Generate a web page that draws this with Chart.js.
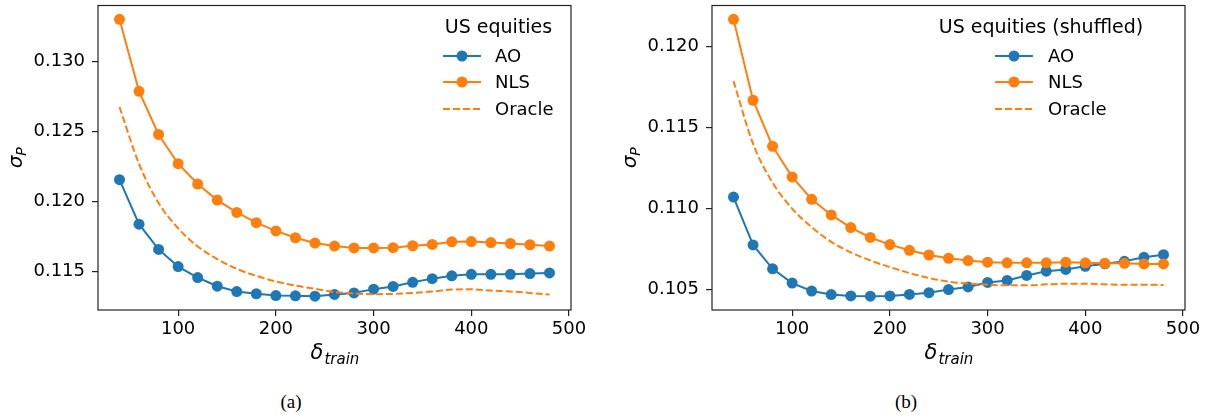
<!DOCTYPE html>
<html>
<head>
<meta charset="utf-8">
<script src="https://cdn.jsdelivr.net/npm/chart.js@4/dist/chart.umd.min.js"></script>
<style>
  html, body { margin: 0; padding: 0; background: #fff; }
  #wrap { position: relative; width: 1210px; height: 416px; overflow: hidden; }
  canvas { position: absolute; top: 0; }
  .cap { position: absolute; top: 391px; font-family: "Liberation Serif", "DejaVu Serif", serif; font-size: 19px; color: #000; transform: translateX(-50%); }
</style>
</head>
<body>
<div id="wrap">
  <canvas id="cA" width="605" height="372" style="left:0px"></canvas>
  <canvas id="cB" width="605" height="372" style="left:605px"></canvas>
  <div class="cap" style="left:291px">(a)</div>
  <div class="cap" style="left:906px">(b)</div>
</div>
<script>
// ---- data ----
const deltaTrain = [40,60,80,100,120,140,160,180,200,220,240,260,280,300,320,340,360,380,400,420,440,460,480];

const aoEquities = [0.12157,0.11839,0.11659,0.11536,0.11458,0.11396,0.11358,0.11342,0.11329,0.11327,0.11325,0.11337,0.11348,0.11375,0.11394,0.11424,0.11450,0.11470,0.11481,0.11481,0.11481,0.11486,0.11491];
const nlsEquities = [0.13302,0.12788,0.12480,0.12271,0.12126,0.12011,0.11923,0.11850,0.11791,0.11742,0.11704,0.11683,0.11669,0.11669,0.11671,0.11685,0.11694,0.11713,0.11715,0.11708,0.11701,0.11692,0.11683];
const oracleEquities = [0.12676,0.12270,0.11990,0.11810,0.11680,0.11590,0.11520,0.11470,0.11430,0.11400,0.11377,0.11354,0.11344,0.11339,0.11341,0.11348,0.11358,0.11372,0.11374,0.11365,0.11358,0.11348,0.11336];

const aoShuffled = [0.11071,0.10776,0.10629,0.10541,0.10492,0.10470,0.10462,0.10460,0.10462,0.10471,0.10482,0.10501,0.10517,0.10545,0.10557,0.10588,0.10614,0.10625,0.10644,0.10660,0.10675,0.10700,0.10716];
const nlsShuffled = [0.12167,0.11668,0.11384,0.11195,0.11057,0.10961,0.10883,0.10822,0.10778,0.10743,0.10714,0.10694,0.10680,0.10670,0.10666,0.10666,0.10666,0.10670,0.10666,0.10663,0.10663,0.10659,0.10659];
const oracleShuffled = [0.11786,0.11400,0.11160,0.11000,0.10885,0.10795,0.10730,0.10680,0.10640,0.10603,0.10572,0.10550,0.10538,0.10531,0.10527,0.10527,0.10533,0.10537,0.10537,0.10533,0.10531,0.10531,0.10529];

const xTicks = [100,200,300,400,500];
const yTicksA = [0.115,0.120,0.125,0.130];
const yTicksB = [0.105,0.110,0.115,0.120];

const seriesNames = ['AO','NLS','Oracle'];
const legendTitles = ['US equities','US equities (shuffled)'];

// ---- styling ----
const BLUE = '#1f77b4', ORANGE = '#ff7f0e';
const FONT = '"DejaVu Sans", sans-serif';

function pts(ys){ return deltaTrain.map((x,i)=>({x:x, y:ys[i]})); }

function makeDatasets(ao, nls, oracle){
  return [
    { label: seriesNames[0], data: pts(ao), borderColor: BLUE, backgroundColor: BLUE, borderWidth: 2,
      pointRadius: 5.5, pointHoverRadius: 5.5, pointBorderWidth: 0, tension: 0, order: 3 },
    { label: seriesNames[1], data: pts(nls), borderColor: ORANGE, backgroundColor: ORANGE, borderWidth: 2,
      pointRadius: 5.5, pointHoverRadius: 5.5, pointBorderWidth: 0, tension: 0, order: 2 },
    { label: seriesNames[2], data: pts(oracle), borderColor: ORANGE, backgroundColor: ORANGE, borderWidth: 2,
      borderDash: [7,3], pointRadius: 0, cubicInterpolationMode: 'monotone', order: 1 }
  ];
}

const decorPlugin = {
  id: 'decor',
  afterDatasetsDraw(chart, args, opts){
    const ctx = chart.ctx, ca = chart.chartArea;
    ctx.save();
    // frame
    ctx.strokeStyle = '#222';
    ctx.lineWidth = 1.2;
    ctx.setLineDash([]);
    ctx.strokeRect(ca.left, ca.top, ca.right - ca.left, ca.bottom - ca.top);

    // x title: delta_train
    const cx = (ca.left + ca.right) / 2;
    ctx.fillStyle = '#000';
    ctx.textBaseline = 'alphabetic';
    ctx.textAlign = 'left';
    const fBig = 'italic 21px ' + FONT, fSmall = 'italic 15px ' + FONT;
    ctx.font = fBig; const w1 = ctx.measureText('δ').width;
    ctx.font = fSmall; const w2 = ctx.measureText('train').width;
    const x0 = cx - (w1 + w2) / 2;
    ctx.font = fBig; ctx.fillText('δ', x0, opts.xTitleY);
    ctx.font = fSmall; ctx.fillText('train', x0 + w1 + 1, opts.xTitleY + 5);

    // y title: sigma_P
    const fBigY = 'italic 20px ' + FONT, fSmallY = 'italic 14px ' + FONT;
    const cy = (ca.top + ca.bottom) / 2;
    ctx.translate(opts.yTitleX, cy);
    ctx.rotate(-Math.PI/2);
    ctx.font = fBigY; const s1 = ctx.measureText('σ').width;
    ctx.font = fSmallY; const s2 = ctx.measureText('P').width;
    const y0 = -(s1 + s2) / 2;
    ctx.font = fBigY; ctx.fillText('σ', y0, 0);
    ctx.font = fSmallY; ctx.fillText('P', y0 + s1, 4);
    ctx.setTransform(1,0,0,1,0,0);

    // legend
    const L = opts.legend;
    ctx.font = '19px ' + FONT;
    ctx.textAlign = 'center';
    ctx.textBaseline = 'middle';
    ctx.fillText(L.title, ca.right + L.titleDX, L.titleY);
    ctx.textAlign = 'left';
    ctx.font = '18px ' + FONT;
    chart.data.datasets.forEach((ds, i) => {
      const y = L.rowY[i];
      const xa = ca.right + L.sampleDX, xb = xa + L.sampleW;
      ctx.strokeStyle = ds.borderColor;
      ctx.lineWidth = ds.borderWidth;
      ctx.setLineDash(ds.borderDash || []);
      ctx.beginPath(); ctx.moveTo(xa, y); ctx.lineTo(xb, y); ctx.stroke();
      ctx.setLineDash([]);
      if (ds.pointRadius > 0) {
        ctx.fillStyle = ds.backgroundColor;
        ctx.beginPath(); ctx.arc((xa + xb) / 2, y, ds.pointRadius, 0, Math.PI * 2); ctx.fill();
      }
      ctx.fillStyle = '#000';
      ctx.fillText(ds.label, ca.right + L.labelDX, y + 1);
    });
    ctx.restore();
  }
};

function makeChart(id, datasets, yMin, yMax, yTicks, yAxisW, padRight, legend){
  return new Chart(document.getElementById(id), {
    type: 'line',
    data: { datasets: datasets },
    options: {
      responsive: false,
      animation: false,
      devicePixelRatio: 1,
      events: [],
      layout: { padding: { top: 3, right: padRight, left: 0, bottom: 0 } },
      plugins: {
        legend: { display: false },
        tooltip: { enabled: false },
        decor: { xTitleY: 359, yTitleX: yAxisW - 76, legend: legend }
      },
      scales: {
        x: {
          type: 'linear', min: 18, max: 502,
          afterBuildTicks: s => { s.ticks = xTicks.map(v => ({ value: v })); },
          afterFit: s => { s.height = 372 - 310; s.paddingLeft = 0; s.paddingRight = 0; },
          grid: { drawOnChartArea: false, drawTicks: true, tickLength: 6, color: '#222', lineWidth: 1.2 },
          border: { display: false },
          ticks: { font: { family: FONT, size: 18 }, color: '#000', padding: 3, maxRotation: 0,
                   callback: v => String(v) }
        },
        y: {
          type: 'linear', min: yMin, max: yMax,
          afterBuildTicks: s => { s.ticks = yTicks.map(v => ({ value: v })); },
          afterFit: s => { s.width = yAxisW; s.paddingTop = 0; s.paddingBottom = 0; },
          grid: { drawOnChartArea: false, drawTicks: true, tickLength: 6, color: '#222', lineWidth: 1.2 },
          border: { display: false },
          ticks: { font: { family: FONT, size: 18 }, color: '#000', padding: 7,
                   callback: v => v.toFixed(3) }
        }
      }
    },
    plugins: [decorPlugin]
  });
}

makeChart('cA', makeDatasets(aoEquities, nlsEquities, oracleEquities),
  0.11226, 0.13401, yTicksA, 98, 605 - 571,
  { title: legendTitles[0], titleDX: -72.5, titleY: 28, sampleDX: -128, sampleW: 38, labelDX: -76, rowY: [56, 82, 109] });

makeChart('cB', makeDatasets(aoShuffled, nlsShuffled, oracleShuffled),
  0.10375, 0.12252, yTicksB, 712 - 605, 605 - (1185 - 605),
  { title: legendTitles[1], titleDX: -144, titleY: 28, sampleDX: -190, sampleW: 38, labelDX: -137, rowY: [56, 82, 109] });
</script>
</body>
</html>
